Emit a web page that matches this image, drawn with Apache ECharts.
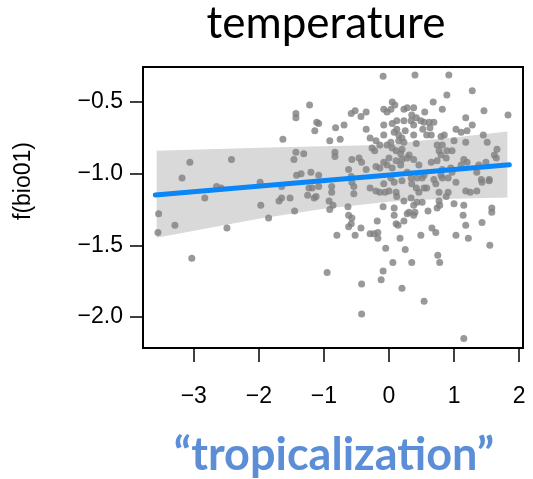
<!DOCTYPE html>
<html><head><meta charset="utf-8">
<script src="https://cdn.jsdelivr.net/npm/echarts@6/dist/echarts.min.js"></script>
<style>html,body{margin:0;padding:0;background:#fff}#c{width:533px;height:479px}</style>
</head><body><div id="c"></div>
<script>
const titleText = 'temperature';
const yName = 'f(bio01)';
const xName = '\u201Ctropicalization\u201D';

const pointX = [-3.54,-3.55,-3.29,-3.18,-3.06,-3.03,-2.83,-2.65,-2.58,-2.49,-2.42,-1.98,-1.97,-1.85,-1.69,-1.65,-1.52,-1.45,-1.63,-1.65,
-1.43,-1.43,-1.43,-1.46,-1.42,-1.35,-1.31,-1.22,-1.20,-1.23,-1.18,-1.25,-1.14,-1.11,-1.08,-1.12,-1.15,-1.08,-1.08,-0.95,
-0.91,-0.75,-0.82,-0.69,-0.83,-0.83,-0.88,-0.88,-0.92,-0.86,-0.91,-0.80,-0.63,-0.62,-0.57,-0.58,-0.62,-0.58,-0.52,-0.43,
-0.35,-0.35,-0.57,-0.46,-0.42,-0.62,-0.35,-0.58,-0.57,-0.54,-0.54,-0.52,-0.43,-0.42,-0.42,-0.29,-0.20,-0.14,-0.26,-0.22,
-0.20,-0.14,-0.29,-0.20,-0.14,-0.29,-0.23,-0.17,-0.17,-0.18,-0.09,-0.08,-0.03,0.05,0.09,0.03,-0.08,-0.08,-0.08,-0.03,
-0.03,0.03,-0.08,-0.06,-0.09,-0.05,-0.09,-0.12,0.00,0.00,0.08,0.11,0.23,0.28,0.12,0.05,0.12,0.08,0.15,0.23,
0.25,0.15,0.23,0.20,0.05,0.11,0.20,0.18,0.11,0.20,0.28,0.05,0.18,0.03,0.20,0.34,0.28,0.35,0.42,0.12,
0.23,0.34,0.38,0.43,0.08,0.08,0.28,0.38,0.11,0.14,0.23,0.31,0.06,0.17,0.25,0.20,0.35,0.49,0.66,0.72,
0.75,0.78,0.54,1.15,1.03,1.22,1.55,1.14,1.18,1.43,1.58,1.58,1.00,1.15,0.60,0.74,0.78,0.77,0.40,0.51,
0.46,0.54,0.58,0.72,0.77,0.88,0.91,1.18,1.25,1.35,1.43,1.54,0.69,0.82,0.91,1.03,0.43,0.51,0.40,0.92,
1.28,0.89,0.68,0.82,0.55,0.38,1.46,1.83,1.18,0.35,0.42,0.34,0.49,0.54,0.38,0.62,0.69,0.63,0.52,1.03,
1.11,1.20,1.28,0.38,0.58,0.65,0.80,0.85,1.00,1.18,1.45,1.51,0.42,0.74,0.82,1.66,1.62,1.65,0.77,0.89,
0.97,0.80,0.74,0.88,0.65,0.46,0.38,0.31,1.15,1.20,1.11,1.38,1.49,1.35,0.95,0.82,0.97,0.80,0.54,1.54,1.42];
const pointY = [-1.28,-1.41,-1.36,-1.03,-0.92,-1.59,-1.17,-1.09,-1.10,-1.38,-0.90,-1.06,-1.22,-1.31,-1.19,-1.17,-1.17,-1.26,-0.76,-1.09,
-0.58,-0.61,-0.85,-0.90,-1.01,-1.00,-0.86,-0.52,-0.99,-1.10,-1.10,-1.15,-0.70,-0.64,-0.65,-1.16,-1.17,-1.01,-1.09,-1.69,
-0.77,-0.76,-0.68,-0.66,-0.85,-0.88,-1.09,-1.13,-1.19,-1.22,-1.25,-1.43,-1.23,-1.29,-1.31,-1.35,-1.37,-0.58,-0.56,-0.60,
-0.57,-0.69,-0.90,-0.89,-0.92,-0.97,-0.97,-1.02,-1.06,-1.09,-1.14,-1.43,-1.38,-1.77,-1.98,-0.75,-0.77,-0.80,-0.82,-0.84,
-0.95,-0.96,-1.10,-1.12,-1.13,-1.42,-1.42,-1.41,-1.45,-1.33,-0.32,-0.55,-0.57,-0.50,-0.52,-0.55,-0.66,-0.73,-0.92,-0.94,
-0.80,-0.78,-1.07,-1.13,-1.23,-1.52,-1.68,-1.74,-0.89,-1.12,-1.06,-1.13,-0.55,-0.54,-0.63,-0.65,-0.69,-0.71,-0.73,-0.63,
-0.70,-0.77,-0.78,-0.75,-0.82,-0.84,-0.83,-0.86,-0.91,-0.90,-0.89,-0.96,-0.94,-1.03,-1.05,-1.03,-0.99,-1.07,-1.10,-1.16,
-1.19,-1.17,-1.22,-1.20,-1.24,-1.29,-1.28,-1.29,-1.35,-1.36,-1.33,-1.27,-1.62,-1.45,-1.53,-1.80,-1.62,-1.43,-1.38,-1.41,
-1.57,-1.62,-1.89,-2.15,-1.43,-1.45,-1.50,-1.29,-1.36,-1.34,-1.24,-1.27,-1.21,-1.22,-1.26,-1.24,-1.22,-1.19,-1.27,-1.20,
-1.13,-1.10,-1.10,-1.07,-1.13,-1.16,-1.13,-1.12,-1.13,-1.12,-1.06,-1.05,-1.04,-1.03,-1.03,-1.06,-1.03,-1.03,-0.31,-0.31,
-0.42,-0.45,-0.50,-0.55,-0.57,-0.54,-0.56,-0.59,-0.61,-0.59,-0.61,-0.63,-0.63,-0.64,-0.66,-0.64,-0.64,-0.68,-0.69,-0.69,
-0.71,-0.70,-0.66,-0.73,-0.73,-0.73,-0.74,-0.73,-0.77,-0.78,-0.73,-0.78,-0.79,-0.80,-0.80,-0.83,-0.87,-0.89,-0.84,-0.84,
-0.84,-0.87,-0.91,-0.89,-0.92,-0.94,-0.90,-0.87,-0.90,-0.92,-0.94,-0.94,-0.92,-0.99,-0.96,-0.97,-0.99,-1.01,-1.01,-1.04,-1.04];

const fitX = [-3.59, 1.85];
const fitY = [-1.149, -0.937];

const bandX = [-3.57, -2.5, -2.0, -1.0, 0.0, 0.5, 1.0, 1.82];
const bandUpper = [-0.839, -0.825, -0.818, -0.808, -0.797, -0.769, -0.748, -0.706];
const bandLower = [-1.448, -1.357, -1.315, -1.245, -1.196, -1.182, -1.175, -1.166];

const xTicks = [-3, -2, -1, 0, 1, 2];
const yTicks = [-2.0, -1.5, -1.0, -0.5];

const fmtX = v => (v < 0 ? '\u2212' : '') + Math.abs(v).toFixed(0);
const fmtY = v => (v < 0 ? '\u2212' : '') + Math.abs(v).toFixed(1);

const chart = echarts.init(document.getElementById('c'), null, {renderer: 'canvas'});
const labelFont = {fontFamily: 'Liberation Sans, Arial, sans-serif', fontSize: 23, color: '#000'};

chart.setOption({
  animation: false,
  backgroundColor: '#fff',
  grid: {left: 143, right: 10, top: 67, bottom: 131, show: true, borderColor: '#000', borderWidth: 2, backgroundColor: 'transparent'},
  xAxis: {
    type: 'value', min: -3.78, max: 2.06,
    axisLine: {show: false, onZero: false},
    splitLine: {show: false},
    axisTick: {show: true, customValues: xTicks, length: 14, lineStyle: {color: '#000', width: 1.5}},
    axisLabel: Object.assign({show: true, customValues: xTicks, margin: 37, formatter: fmtX}, labelFont)
  },
  yAxis: {
    type: 'value', min: -2.217, max: -0.255,
    axisLine: {show: false, onZero: false},
    splitLine: {show: false},
    axisTick: {show: true, customValues: yTicks, length: 13, lineStyle: {color: '#000', width: 1.5}},
    axisLabel: Object.assign({show: true, customValues: yTicks, margin: 20, formatter: fmtY}, labelFont)
  },
  graphic: [
    {type: 'text', x: 326, y: 24, style: {text: titleText, font: '44px Lato, "Open Sans", sans-serif', fill: '#000', align: 'center', verticalAlign: 'middle'}},
    {type: 'text', rotation: Math.PI / 2, x: 24, y: 181, style: {text: yName, font: '23px "Liberation Sans", Arial, sans-serif', fill: '#000', align: 'center', verticalAlign: 'middle'}},
    {type: 'text', x: 334, y: 455, style: {text: xName, font: 'bold 45px Lato, "Open Sans", sans-serif', fill: '#5B8ED6', align: 'center', verticalAlign: 'middle'}}
  ],
  series: [
    {
      type: 'custom', silent: true, z: 1, clip: true,
      data: [0],
      renderItem: (params, api) => {
        const pts = [];
        bandX.forEach((x, i) => pts.push(api.coord([x, bandUpper[i]])));
        for (let i = bandX.length - 1; i >= 0; i--) pts.push(api.coord([bandX[i], bandLower[i]]));
        return {type: 'polygon', shape: {points: pts}, style: {fill: '#d9d9d9'}};
      }
    },
    {type: 'scatter', data: pointX.map((x, i) => [x, pointY[i]]), symbolSize: 7, itemStyle: {color: '#7f7f7f'}, z: 2},
    {type: 'line', data: fitX.map((x, i) => [x, fitY[i]]), symbol: 'none', lineStyle: {color: '#0b86f7', width: 5, cap: 'round'}, z: 3}
  ]
});
</script>
</body></html>
